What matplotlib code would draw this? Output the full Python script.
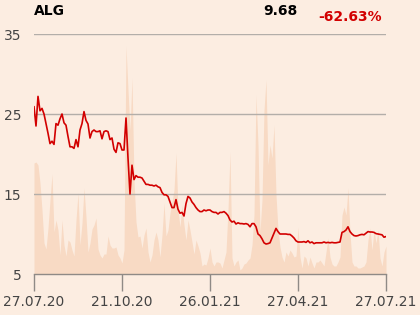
import numpy as np
import matplotlib.pyplot as plt

# closing price, one value per sample
price = [25.9, 23.5, 27.2, 25.4, 25.7, 25.0, 23.8, 22.6, 21.3, 21.6,
         21.2, 23.8, 23.6, 24.4, 25.0, 23.9, 23.6, 22.2, 20.9, 20.9,
         20.7, 21.8, 20.9, 23.0, 23.8, 25.3, 24.2, 23.75, 22.0, 22.8,
         23.0, 22.8, 22.8, 22.9, 21.9, 22.8, 22.9, 22.8, 21.8, 22.0,
         20.6, 20.2, 21.4, 21.3, 20.5, 20.5, 24.5, 19.5, 15.0, 18.6,
         16.8, 17.3, 17.1, 17.1, 17.0, 16.6, 16.2, 16.2, 16.1, 16.1,
         16.0, 16.1, 15.9, 15.8, 15.2, 14.9, 14.9, 14.7, 14.0, 13.3,
         13.3, 14.3, 13.1, 12.6, 12.7, 12.25, 13.8, 14.7, 14.5, 14.0,
         13.7, 13.3, 13.0, 12.8, 12.8, 13.0, 12.9, 13.0, 13.0, 12.8,
         12.7, 12.7, 12.5, 12.7, 12.7, 12.8, 12.6, 12.3, 11.75, 11.5,
         11.6, 11.25, 11.4, 11.3, 11.3, 11.25, 11.3, 11.2, 10.9, 11.3,
         11.3, 10.9, 10.0, 9.8, 9.4, 8.9, 8.75, 8.8, 8.9, 9.5,
         10.1, 10.7, 10.3, 10.0, 10.0, 10.0, 10.0, 9.95, 9.95, 9.75,
         9.5, 9.15, 9.0, 9.0, 9.0, 9.05, 8.95, 9.15, 8.9, 9.0,
         8.8, 8.9, 8.9, 8.9, 8.9, 9.0, 8.9, 8.95, 8.9, 8.95,
         8.9, 8.9, 8.95, 9.0, 10.2, 10.3, 10.5, 10.9, 10.3, 10.0,
         9.8, 9.75, 9.8, 9.9, 9.95, 9.9, 10.1, 10.3, 10.25, 10.25,
         10.2, 10.05, 10.0, 9.95, 9.9, 9.6, 9.68]

# traded volume (thousands), same samples
volume = [111, 112, 109, 91, 64, 31, 25, 46, 74, 100,
          42, 54, 44, 19, 54, 29, 18, 34, 32, 24,
          18, 54, 81, 29, 51, 86, 57, 22, 31, 45,
          49, 56, 25, 19, 16, 20, 20, 38, 29, 26,
          26, 27, 19, 16, 11, 24, 228, 184, 144, 196,
          94, 52, 37, 38, 26, 39, 46, 22, 12, 19,
          34, 42, 34, 17, 39, 71, 38, 44, 61, 72,
          84, 121, 64, 47, 69, 49, 34, 54, 44, 32,
          20, 34, 28, 21, 8, 10, 9, 16, 26, 12,
          8, 12, 12, 11, 6, 14, 22, 64, 122, 16,
          8, 12, 14, 4, 6, 10, 11, 14, 16, 29,
          59, 179, 129, 42, 74, 164, 194, 109, 129, 116,
          149, 79, 44, 27, 17, 12, 22, 18, 24, 21,
          17, 18, 47, 17, 6, 18, 16, 8, 17, 11,
          6, 12, 12, 14, 11, 8, 22, 36, 17, 10,
          8, 8, 12, 17, 59, 67, 59, 86, 41, 12,
          8, 8, 6, 6, 7, 8, 12, 34, 46, 24,
          44, 31, 44, 16, 8, 22, 28]

tick_labels = ['27.07.20', '21.10.20', '26.01.21', '27.04.21', '27.07.21']
y_ticks = [5, 15, 25, 35]

bg = '#fcede1'
x = np.arange(len(price))

fig = plt.figure(figsize=(4.2, 3.15), dpi=100, facecolor=bg)
ax = fig.add_axes([34/420, 1-274/315, 352/420, 240/315])
ax.set_facecolor(bg)

# volume on its own scale behind the price
axv = ax.twinx()
axv.fill_between(x, 0, volume, color='#f8dac4', lw=0, zorder=1)
axv.set_ylim(0, 240)
axv.axis('off')
ax.set_zorder(axv.get_zorder() + 1)
ax.patch.set_visible(False)
fig.patch.set_facecolor(bg)

ax.plot(x, price, color='#d20000', lw=1.2, zorder=3)
ax.set_ylim(5, 35)
ax.set_xlim(0, len(price) - 1)

for yv in y_ticks[1:]:
    ax.axhline(yv, color='#b3aea9', lw=1, zorder=2)

for s in ['top', 'right', 'left']:
    ax.spines[s].set_visible(False)
ax.spines['bottom'].set_color('#8f8a86')
ax.spines['bottom'].set_linewidth(1)

ax.set_yticks(y_ticks)
ax.tick_params(axis='y', length=0, pad=9, labelsize=10, labelcolor='#444444')
n = len(price) - 1
ax.set_xticks([0, n/4, n/2, 3*n/4, n])
ax.set_xticklabels(tick_labels)
ax.tick_params(axis='x', length=12, width=1, color='#8f8a86', pad=3,
               labelsize=10, labelcolor='#444444')

fig.text(34/420, 1-11/315, 'ALG', fontsize=10, fontweight='bold', va='center')
fig.text(297/420, 1-11/315, '9.68', fontsize=10, fontweight='bold', ha='right', va='center')
fig.text(382/420, 1-17/315, '-62.63%', fontsize=10, fontweight='bold', ha='right',
         va='center', color='#d20000')

fig.savefig('out.png', dpi=100, facecolor=bg)
